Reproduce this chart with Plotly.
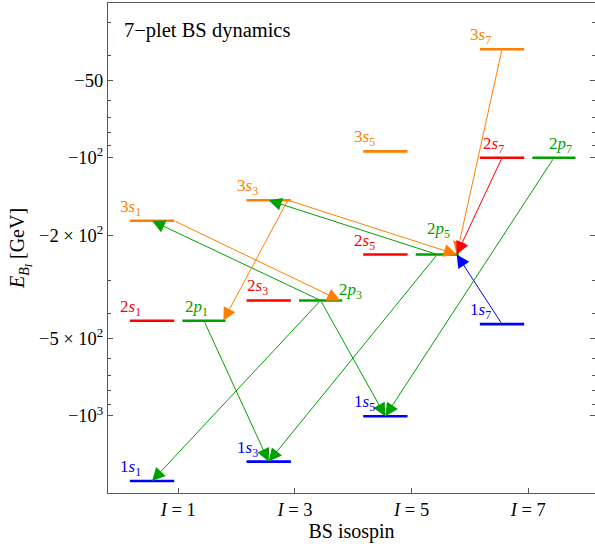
import math
import plotly.graph_objects as go

# ---------------- data ----------------
isospin = [1, 3, 5, 7]
E_1s = [-1787, -1503, -1003, -441]      # GeV
E_2s = [-428, -357, -237, -100]
E_2p = [-428, -357, -237, -100]
E_3s = [-175.5, -146, -94.5, -38]

y_tickvals = [-50, -100, -200, -500, -1000]
y_ticktext = ["\u221250", "\u221210<sup>2</sup>", "\u22122 \u00d7 10<sup>2</sup>",
              "\u22125 \u00d7 10<sup>2</sup>", "\u221210<sup>3</sup>"]
y_minor = [-30, -40, -60, -70, -80, -90, -300, -400, -600, -700, -800, -900]
x_ticktext = ["<i>I</i> = 1", "<i>I</i> = 3", "<i>I</i> = 5", "<i>I</i> = 7"]

# transitions: (from state, from I, to state, to I)
transitions = [
    ("3s", 1, "2p", 3), ("2p", 3, "3s", 1),
    ("3s", 3, "2p", 5), ("2p", 5, "3s", 3),
    ("3s", 3, "2p", 1), ("3s", 7, "2p", 5),
    ("2s", 7, "2p", 5), ("1s", 7, "2p", 5),
    ("2p", 1, "1s", 3), ("2p", 3, "1s", 1), ("2p", 3, "1s", 5),
    ("2p", 5, "1s", 3), ("2p", 7, "1s", 5),
]

# ---------------- styles ----------------
energies = {"1s": E_1s, "2s": E_2s, "2p": E_2p, "3s": E_3s}
colors = {"1s": "#0000FF", "2s": "#FF0000", "3s": "#FF8000", "2p": "#00A000"}
bar_span = {"s": (-0.83, -0.07), "p": (0.07, 0.81)}
# anchor fraction along bar for arrow ends
src_anchor = {("3s", 1): 1.0, ("3s", 3): 0.93}
dst_anchor = {"2p": 0.95}
label_shift = {  # (dx, dy) px relative to bar left end
    ("2s", 3): (11, 0), ("2s", 7): (14, 0),
    ("2p", 1): (14, 0), ("2p", 3): (51, -4), ("2p", 5): (23, 12), ("2p", 7): (28, 0),
}

def bar_x(state, I):
    lo, hi = bar_span[state[1]]
    return I + lo, I + hi

def point(state, I, frac):
    x0, x1 = bar_x(state, I)
    e = energies[state][isospin.index(I)]
    return x0 + frac * (x1 - x0), abs(e)

fig = go.Figure()

for st in ["3s", "2s", "2p", "1s"]:
    for I, e in zip(isospin, energies[st]):
        x0, x1 = bar_x(st, I)
        fig.add_trace(go.Scatter(x=[x0, x1], y=[abs(e), abs(e)], mode="lines",
                                 line=dict(color=colors[st], width=2.6),
                                 hoverinfo="skip", showlegend=False))

ann = []
for (s0, i0, s1, i1) in transitions:
    fx = src_anchor.get((s0, i0), 0.5)
    tx = dst_anchor.get(s1, 0.5)
    xa, ya = point(s0, i0, fx)
    xb, yb = point(s1, i1, tx)
    ann.append(dict(x=xb, y=math.log10(yb), ax=xa, ay=math.log10(ya),
                    xref="x", yref="y", axref="x", ayref="y", text="",
                    showarrow=True, arrowhead=2, arrowsize=2.6, arrowwidth=1,
                    arrowcolor=colors[s0], standoff=0))

for st in ["3s", "2s", "2p", "1s"]:
    for I, e in zip(isospin, energies[st]):
        x0, _ = bar_x(st, I)
        dx, dy = label_shift.get((st, I), (1, 0))
        ann.append(dict(x=x0, y=math.log10(abs(e)), xref="x", yref="y",
                        text=f"{st[0]}<i>{st[1]}</i><sub>{I}</sub>",
                        showarrow=False, xanchor="center", yanchor="bottom",
                        xshift=dx, yshift=dy, font=dict(size=17, color=colors[st])))

ann.append(dict(x=0.028, y=0.943, xref="paper", yref="paper", xanchor="left",
                yanchor="middle", text="7\u2212plet BS dynamics", showarrow=False,
                font=dict(size=20.5, color="black")))

axis_col = "#555555"
fig.update_layout(
    width=595, height=550,
    margin=dict(l=108, r=0, t=3, b=57),
    paper_bgcolor="white", plot_bgcolor="white",
    font=dict(family="Liberation Serif", color="black"),
    annotations=ann,
    xaxis=dict(range=[-0.205, 8.144], tickmode="array", tickvals=isospin,
               ticktext=x_ticktext, ticks="inside", ticklen=5, tickcolor=axis_col,
               showline=True, linecolor=axis_col, linewidth=1, mirror=True,
               showgrid=False, zeroline=False, tickfont=dict(size=18.5),
               title=dict(text="BS isospin", font=dict(size=20), standoff=1)),
    yaxis=dict(type="log", range=[3.2986, 1.4005], tickmode="array",
               tickvals=[abs(v) for v in y_tickvals], ticktext=y_ticktext,
               ticks="inside", ticklen=5, tickcolor=axis_col,
               showline=True, linecolor=axis_col, linewidth=1, mirror="ticks",
               showgrid=False, zeroline=False, tickfont=dict(size=18.5),
               minor=dict(tickvals=[abs(v) for v in y_minor], ticks="inside",
                          ticklen=3, tickcolor=axis_col, showgrid=False),
               title=dict(text="<i>E</i><sub><i>B</i><sub><i>I</i></sub></sub> [GeV]",
                          font=dict(size=20), standoff=8)),
)

fig.write_html("out.html", config={"displayModeBar": False},
               post_script="document.body.style.margin='0';")
